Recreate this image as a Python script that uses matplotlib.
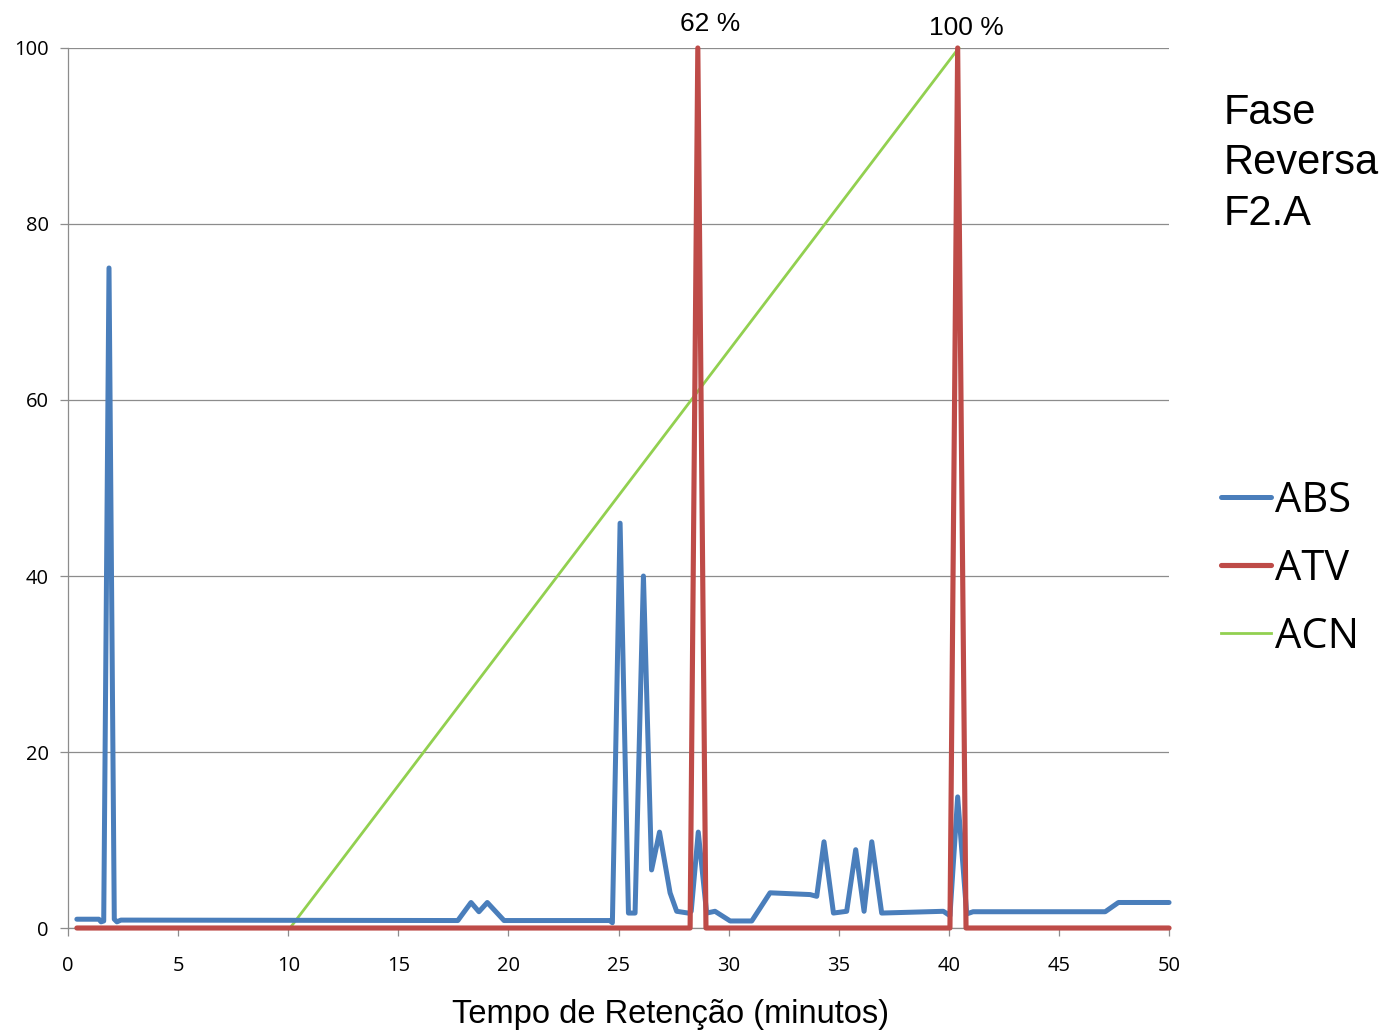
import matplotlib.pyplot as plt

# ABS trace (absorbance), retention time in minutes
abs_time = [0.4, 1.4, 1.5, 1.62, 1.86, 2.1, 2.22, 2.4, 17.7, 18.3, 18.66, 19.04, 19.8,
            24.6, 24.72, 25.07, 25.45, 25.75, 26.13, 26.5, 26.86, 27.34, 27.64, 28.16,
            28.3, 28.62, 29.0, 29.38, 30.07, 31.05, 31.88, 33.7, 34.0, 34.33, 34.76,
            35.36, 35.77, 36.15, 36.5, 36.95, 39.75, 40.05, 40.4, 40.81, 41.1, 47.1,
            47.7, 50.0]
abs_val = [1.0, 1.0, 0.7, 0.8, 75.0, 1.0, 0.7, 0.9, 0.85, 2.9, 1.85, 2.9, 0.85,
           0.85, 0.6, 46.0, 1.7, 1.7, 40.0, 6.6, 10.9, 4.0, 1.9, 1.7,
           1.9, 10.9, 1.7, 1.9, 0.8, 0.8, 4.0, 3.8, 3.6, 9.8, 1.7,
           1.9, 8.9, 1.9, 9.8, 1.7, 1.9, 1.4, 14.9, 1.6, 1.85, 1.85,
           2.9, 2.9]

# ATV (activity) fractions
atv_time = [0.4, 28.25, 28.6, 28.97, 40.05, 40.4, 40.78, 50.0]
atv_val = [0, 0, 100, 0, 0, 100, 0, 0]

# ACN gradient (%)
acn_time = [10.08, 40.45]
acn_val = [0, 100]

xticks = list(range(0, 51, 5))
yticks = list(range(0, 101, 20))

plt.rcParams['font.family'] = ['Open Sans', 'DejaVu Sans']

fig = plt.figure(figsize=(13.83, 10.34), dpi=100)
ax = fig.add_axes([0.0492, 0.1025, 0.7961, 0.8511])

ax.plot(abs_time, abs_val, color='#4a7ebb', lw=3.6, solid_joinstyle='round',
        solid_capstyle='round', label='ABS', clip_on=False, zorder=3)
ax.plot(atv_time, atv_val, color='#be4b48', lw=3.7, solid_joinstyle='round',
        solid_capstyle='round', label='ATV', clip_on=False, zorder=4)
ax.plot(acn_time, acn_val, color='#92d050', lw=2.0, label='ACN',
        clip_on=False, zorder=2)

ax.set_xlim(0, 50)
ax.set_ylim(0, 100)
ax.set_xticks(xticks)
ax.set_yticks(yticks)
ax.grid(axis='y', color='#8c8c8c', lw=0.9)
ax.set_axisbelow(True)
for s in ['top', 'right']:
    ax.spines[s].set_visible(False)
for s in ['left', 'bottom']:
    ax.spines[s].set_color('#8c8c8c')
    ax.spines[s].set_linewidth(0.9)
ax.tick_params(axis='both', colors='#8c8c8c', length=6, width=0.9, labelsize=14.5,
               labelcolor='black')
ax.tick_params(axis='x', pad=14)
ax.tick_params(axis='y', pad=8)

ax.set_xlabel('Tempo de Retenção (minutos)', family=['Liberation Sans'],
              fontsize=23.5)
ax.xaxis.set_label_coords(0.547, -0.081)

# percent annotations above the two active peaks
ax.text(29.16, 102.7, '62 %', family=['Liberation Sans'], fontsize=19,
        ha='center', va='center', clip_on=False)
ax.text(40.78, 102.3, '100 %', family=['Liberation Sans'], fontsize=19,
        ha='center', va='center', clip_on=False)

fig.text(0.885, 0.842, 'Fase\nReversa\nF2.A', family=['Liberation Sans'],
         fontsize=30, ha='left', va='center', linespacing=1.33)

fig.legend(loc='upper left', bbox_to_anchor=(0.8555, 0.572), frameon=False,
           fontsize=30, handlelength=1.2, handletextpad=0.1, labelspacing=0.62)

plt.savefig('out.png', dpi=100)
